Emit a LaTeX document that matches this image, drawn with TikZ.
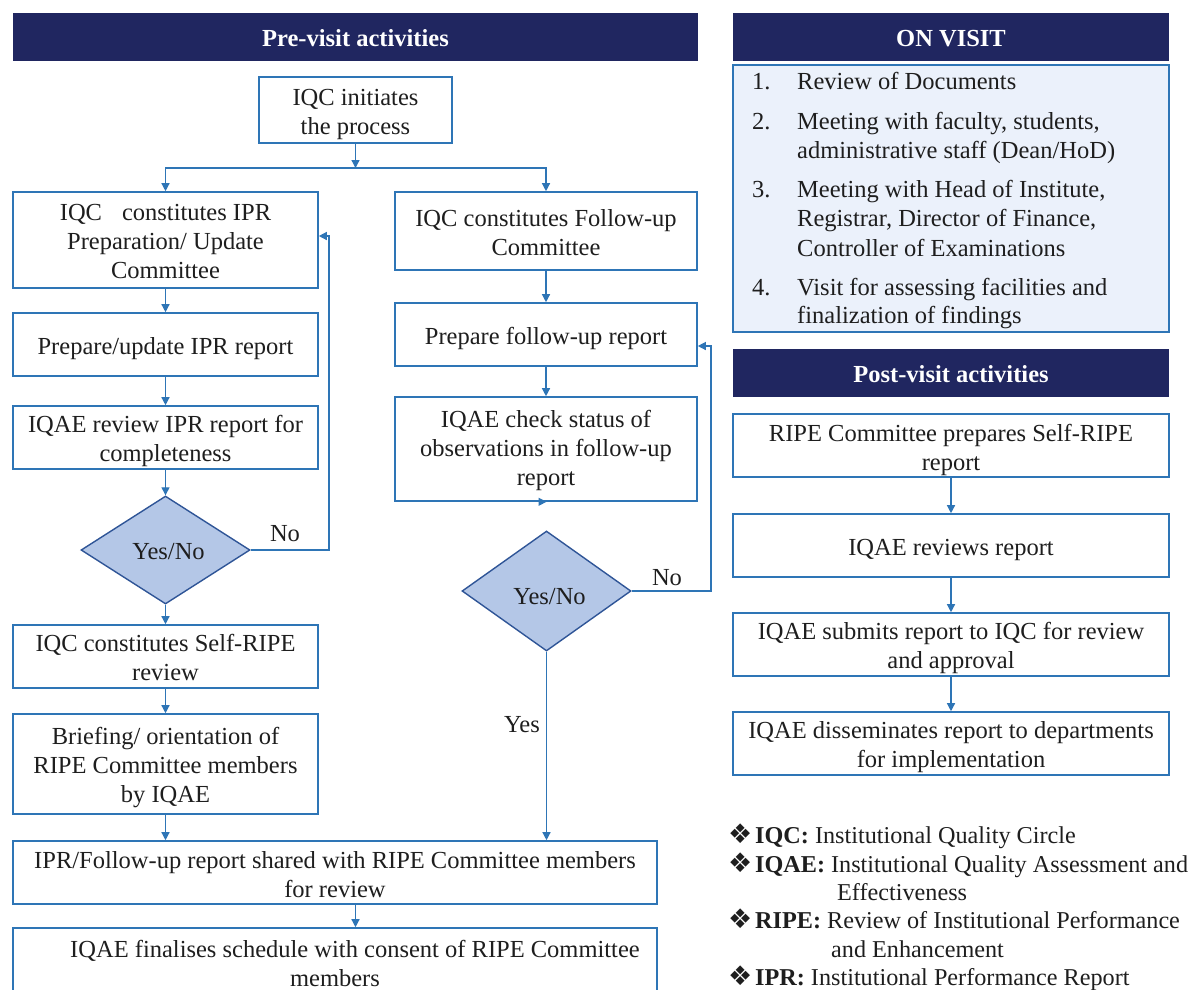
\documentclass[tikz,border=0pt]{standalone}
\usepackage{fontspec}
\setmainfont{Liberation Serif}
\newfontfamily\dejavu{DejaVu Sans}
\usetikzlibrary{shapes.geometric,arrows.meta,calc}
\definecolor{navy}{RGB}{32,38,96}
\definecolor{boxblue}{RGB}{46,117,182}
\definecolor{dmfill}{RGB}{180,199,231}
\definecolor{dmline}{RGB}{47,85,151}
\definecolor{listfill}{RGB}{235,241,251}
\definecolor{txt}{RGB}{30,30,30}
\newcommand\bodyfont{\fontsize{24.5}{29}\selectfont}
\newcommand\legfont{\fontsize{24.2}{29}\selectfont}
% text block lowered by half of the given amount (apparent depth reduced)
\newcommand\bx[2][8pt]{\raisebox{0pt}[\height][\dimexpr\depth-#1\relax]{\begin{tabular}{@{}c@{}}#2\end{tabular}}}
\newcommand\bul{{\dejavu\fontsize{27}{29}\selectfont ❖}}
\tikzset{
  box/.style={draw=boxblue, line width=1.6pt, fill=white, inner sep=1pt, font=\bodyfont, text=txt},
  hdr/.style={fill=navy, text=white, font=\bodyfont\bfseries, minimum height=48pt, inner sep=0pt},
  decision/.style={diamond, draw=dmline, line width=1.4pt, fill=dmfill, inner sep=0pt, minimum width=169pt, font=\bodyfont, text=txt},
  arr/.style={draw=boxblue, line width=1.3pt, -{Triangle[length=8pt,width=8pt]}},
  lbl/.style={font=\bodyfont, text=txt, inner sep=0pt},
  lline/.style={font=\bodyfont, text=txt, inner sep=0pt, anchor=base west},
  legline/.style={font=\legfont, text=txt, inner sep=0pt, anchor=base west},
}
\begin{document}
\begin{tikzpicture}[x=1pt,y=-1pt]
\useasboundingbox (0,0) rectangle (1189,989);
% ---------- Pre-visit ----------
\node[hdr, minimum width=685pt] (prehdr) at (355.5,37) {\bx[10pt]{Pre-visit activities}};
\node[box, minimum width=193pt, minimum height=66pt] (init) at (355.5,110) {\bx[9pt]{IQC initiates\\the process}};
\node[box, minimum width=305pt, minimum height=96pt] (l1) at (165.5,240) {\bx{IQC\hspace{20pt}constitutes IPR\\Preparation/ Update\\Committee}};
\node[box, minimum width=302pt, minimum height=78pt] (r1) at (546,231) {\bx{IQC constitutes Follow-up\\Committee}};
\node[box, minimum width=305pt, minimum height=63pt] (l2) at (165.5,344.5) {\bx{Prepare/update IPR report}};
\node[box, minimum width=302pt, minimum height=63pt] (r2) at (546,334.5) {\bx{Prepare follow-up report}};
\node[box, minimum width=305pt, minimum height=63pt] (l3) at (165.5,437.5) {\bx{IQAE review IPR report for\\completeness}};
\node[box, minimum width=302pt, minimum height=104pt] (r3) at (546,449) {\bx[3pt]{IQAE check status of\\observations in follow-up\\report}};
\node[decision, minimum height=108pt] (ld) at (165.5,550) {\raisebox{-9pt}[0pt][0pt]{\hspace{6pt}Yes/No}};
\node[decision, minimum height=120pt] (rd) at (546.5,591) {\raisebox{-13pt}[0pt][0pt]{\hspace{6pt}Yes/No}};
\node[box, minimum width=305pt, minimum height=63pt] (l4) at (165.5,656.5) {\bx{IQC constitutes Self-RIPE\\review}};
\node[box, minimum width=305pt, minimum height=100pt] (l5) at (165.5,764) {\bx{Briefing/ orientation of\\RIPE Committee members\\by IQAE}};
\node[box, minimum width=644pt, minimum height=63pt] (sh) at (335,872.5) {\bx[10pt]{IPR/Follow-up report shared with RIPE Committee members\\for review}};
\node[box, minimum width=644pt, minimum height=63pt] (fin) at (335,959.5) {\bx[14pt]{\hspace{40pt}IQAE finalises schedule with consent of RIPE Committee\\members}};
% connectors
\coordinate (j) at (355.5,168);
\draw[arr] (init.south) -- (j);
\draw[arr] (j) -| (l1.north);
\draw[arr] (j) -| (r1.north);
\draw[arr] (l1) -- (l2);
\draw[arr] (l2) -- (l3);
\draw[arr] (l3) -- (ld);
\draw[arr] (ld) -- (l4);
\draw[arr] (l4) -- (l5);
\draw[arr] (l5.south) -- (l5.south |- sh.north);
\draw[arr] (r1) -- (r2);
\draw[arr] (r2) -- (r3);
\draw[arr] (r3.south) -- (r3.south -| rd.north);
\draw[arr] (rd.south) -- (rd.south |- sh.north);
\draw[arr] (init.south |- sh.south) -- (init.south |- fin.north);
\coordinate (nl) at (329,236);
\draw[arr] (ld.east) -| (nl) -- (nl -| l1.east);
\coordinate (nr) at (711,346);
\draw[arr] (rd.east) -| (nr) -- (nr -| r2.east);
\node[lbl] (nolab1) at (285,534) {No};
\node[lbl] (nolab2) at (667,578) {No};
\node[lbl] (yeslab) at (522,725) {Yes};
% ---------- On visit ----------
\node[hdr, minimum width=436pt] (onhdr) at (951,37) {\bx[10pt]{ON VISIT}};
\node[draw=boxblue, line width=1.4pt, fill=listfill, minimum width=436pt, minimum height=267pt, inner sep=0pt] (list) at (951,198.5) {};
\node[lline] (n1) at (752,89) {1.};
\node[lline] (t1) at (797,89) {Review of Documents};
\node[lline] (n2) at (752,129) {2.};
\node[lline] (t2a) at (797,129) {Meeting with faculty, students,};
\node[lline] (t2b) at (797,158) {administrative staff (Dean/HoD)};
\node[lline] (n3) at (752,197) {3.};
\node[lline] (t3a) at (797,197) {Meeting with Head of Institute,};
\node[lline] (t3b) at (797,226) {Registrar, Director of Finance,};
\node[lline] (t3c) at (797,256) {Controller of Examinations};
\node[lline] (n4) at (752,295) {4.};
\node[lline] (t4a) at (797,295) {Visit for assessing facilities and};
\node[lline] (t4b) at (797,323) {finalization of findings};
% ---------- Post visit ----------
\node[hdr, minimum width=436pt] (posthdr) at (951,373) {\bx[10pt]{Post-visit activities}};
\node[box, minimum width=436pt, minimum height=63pt] (p1) at (951,445.5) {\bx[10pt]{RIPE Committee prepares Self-RIPE\\report}};
\node[box, minimum width=436pt, minimum height=63pt] (p2) at (951,545.5) {\bx[9pt]{IQAE reviews report}};
\node[box, minimum width=436pt, minimum height=63pt] (p3) at (951,644.5) {\bx[8pt]{IQAE submits report to IQC for review\\and approval}};
\node[box, minimum width=436pt, minimum height=63pt] (p4) at (951,743.5) {\bx[8pt]{IQAE disseminates report to departments\\for implementation}};
\draw[arr] (p1) -- (p2);
\draw[arr] (p2) -- (p3);
\draw[arr] (p3) -- (p4);
% ---------- Legend ----------
\node[legline] (b1) at (728,843) {\bul};
\node[legline] (k1) at (755,843) {\textbf{IQC:} Institutional Quality Circle};
\node[legline] (b2) at (728,872) {\bul};
\node[legline] (k2) at (755,872) {\textbf{IQAE:} Institutional Quality Assessment and};
\node[legline] (k2b) at (837,900) {Effectiveness};
\node[legline] (b3) at (728,928) {\bul};
\node[legline] (k3) at (755,928) {\textbf{RIPE:} Review of Institutional Performance};
\node[legline] (k3b) at (831,957) {and Enhancement};
\node[legline] (b4) at (728,985) {\bul};
\node[legline] (k4) at (755,985) {\textbf{IPR:} Institutional Performance Report};
\end{tikzpicture}
\end{document}
